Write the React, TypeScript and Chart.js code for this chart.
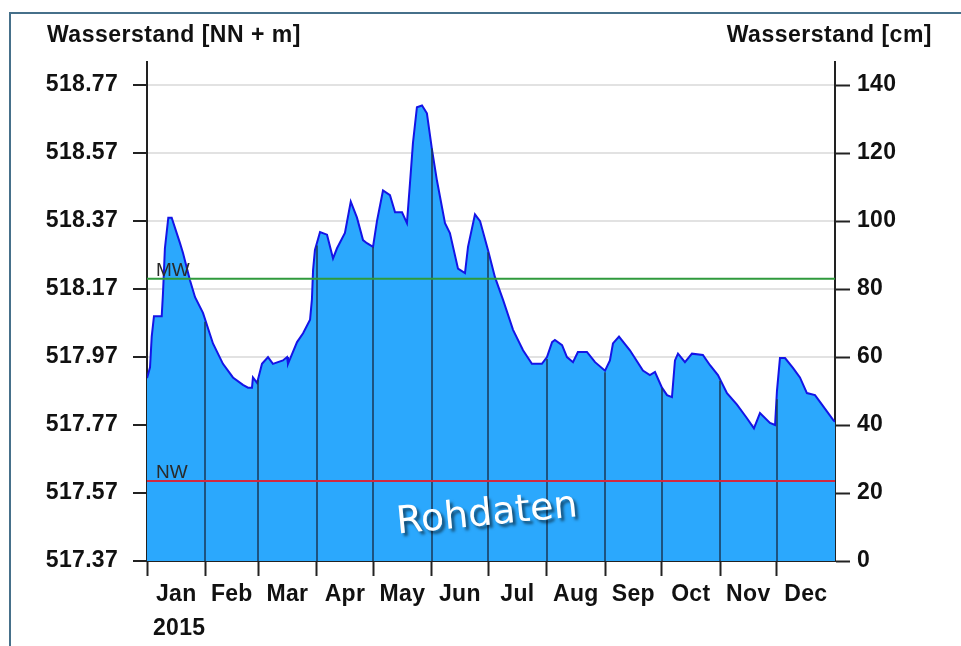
import { useEffect, useRef } from "react";
import { Chart, registerables } from "chart.js";

Chart.register(...registerables);

// ---- data ----
const monthNames = ["Jan", "Feb", "Mar", "Apr", "May", "Jun", "Jul", "Aug", "Sep", "Oct", "Nov", "Dec"];
const monthStartDays = [0, 31, 59, 90, 120, 151, 181, 212, 243, 273, 304, 334];
const yearEndDay = 365;
const yearLabel = "2015";
const leftTickValues = [517.37, 517.57, 517.77, 517.97, 518.17, 518.37, 518.57, 518.77];
const rightTickValues = [0, 20, 40, 60, 80, 100, 120, 140];
const zeroLevelNN = 517.37; // NN + m at 0 cm
const axisTopCm = 146.8;
const mwCm = 83;
const nwCm = 23.5;

const dayOfYear = [
  0, 1.6, 2.5, 3.7, 7.8, 8.5, 9.5, 11.3, 13.1, 17.5,
  19.1, 22.8, 25.5, 29.7, 35, 40.3, 45.6, 50.9, 53.6, 55.7,
  56.2, 58.4, 61, 64.2, 66.8, 72.1, 74.3, 74.8, 79.6, 82.8,
  86.5, 87.5, 88.1, 89.1, 91.8, 95.5, 98.7, 100.8, 105, 108.1,
  111.4, 114.6, 116.7, 119.9, 122, 125.2, 128.9, 131.6, 135.3, 137.9,
  139.5, 141.1, 143.2, 145.9, 148.5, 151.2, 153.8, 158.1, 160.7, 165,
  168.7, 170.3, 174, 176.7, 180.9, 184.6, 188.9, 194.2, 199.5, 204.2,
  209.5, 212.2, 214.9, 216.4, 220.2, 222.8, 226, 228.6, 233.4, 237.7,
  243, 245.6, 247.2, 250.4, 256.2, 263.1, 266.8, 269.5, 273.2, 275.9,
  278.5, 280.1, 281.7, 285.4, 289.1, 294.9, 298.7, 302.9, 307.7, 313,
  318.3, 322, 325.2, 330.5, 333.2, 334.2, 335.8, 338.5, 342.7, 346.4,
  350.1, 354.4, 358.1, 364, 365,
];

const levelCm = [
  53.8, 57, 66, 72, 72, 79, 92, 101, 101, 93.5,
  90.6, 82.6, 77.6, 73, 64, 58, 54, 51.8, 51, 51,
  54, 52.4, 58, 60, 58, 59, 60, 58, 64.4, 67,
  71, 77, 85.6, 91.5, 96.8, 96, 89, 92, 96.5, 105.7,
  101, 94.4, 93.5, 92.4, 100, 109, 107.6, 102.6, 102.6, 99.4,
  111, 123, 133.5, 134, 131.7, 121, 112, 99.4, 96.5, 86,
  84.7, 92.4, 102, 100, 91.5, 83.5, 76.8, 68, 62, 58,
  58, 60, 64.4, 65, 63.5, 60, 58.5, 61.5, 61.5, 58.5,
  56, 59, 64, 66, 62, 56, 54.7, 55.6, 51, 48.8,
  48.2, 59, 61, 58.5, 61, 60.6, 57.6, 54.7, 49.4, 46,
  42, 39, 43.5, 40.6, 40, 50, 59.7, 59.7, 56.8, 54,
  49.4, 48.8, 46, 41.5, 41,
];

const FONT = "'Liberation Sans', Arial, sans-serif";

function interpLevel(d: number): number {
  for (let i = 0; i < dayOfYear.length - 1; i++) {
    if (d >= dayOfYear[i] && d <= dayOfYear[i + 1]) {
      const t = (d - dayOfYear[i]) / (dayOfYear[i + 1] - dayOfYear[i] || 1);
      return levelCm[i] + t * (levelCm[i + 1] - levelCm[i]);
    }
  }
  return levelCm[levelCm.length - 1];
}

const xTickList: number[] = [];
monthStartDays.forEach((s, i) => {
  const e = i < monthStartDays.length - 1 ? monthStartDays[i + 1] : yearEndDay;
  xTickList.push(s);
  xTickList.push((s + e) / 2);
});

const overlayPlugin = {
  id: "overlay",
  beforeDraw(chart: any) {
    try {
      chart.ctx.letterSpacing = "0.3px";
    } catch (e) {}
  },
  afterDatasetDraw(chart: any, args: any) {
    if (args.index !== 0) return;
    const { ctx, chartArea } = chart;
    const xs = chart.scales.x;
    const ys = chart.scales.y1;
    ctx.save();
    ctx.strokeStyle = "rgba(25,55,85,0.75)";
    ctx.lineWidth = 2;
    for (const d of monthStartDays.slice(1)) {
      const px = Math.round(xs.getPixelForValue(d));
      const py = ys.getPixelForValue(interpLevel(d)) + 1.5;
      ctx.beginPath();
      ctx.moveTo(px, chartArea.bottom);
      ctx.lineTo(px, py);
      ctx.stroke();
    }
    ctx.restore();
  },
  afterDatasetsDraw(chart: any) {
    const { ctx, chartArea } = chart;
    const ys = chart.scales.y1;
    ctx.save();
    try {
      ctx.letterSpacing = "0px";
    } catch (e) {}
    ctx.fillStyle = "#2a2a2a";
    ctx.font = `19px ${FONT}`;
    ctx.textAlign = "left";
    ctx.textBaseline = "alphabetic";
    ctx.fillText("MW", chartArea.left + 9, ys.getPixelForValue(mwCm) - 3);
    ctx.fillText("NW", chartArea.left + 9, ys.getPixelForValue(nwCm) - 3);

    // watermark
    ctx.translate((chartArea.left + chartArea.right) / 2 - 4, chartArea.bottom - 46);
    ctx.rotate((-5.5 * Math.PI) / 180);
    ctx.font = `38px 'DejaVu Sans', sans-serif`;
    ctx.textAlign = "center";
    ctx.textBaseline = "middle";
    ctx.shadowColor = "rgba(0,0,0,0.55)";
    ctx.shadowOffsetX = 3;
    ctx.shadowOffsetY = 3;
    ctx.shadowBlur = 3;
    ctx.fillStyle = "#ffffff";
    ctx.fillText("Rohdaten", 0, 0);
    ctx.restore();
  },
  afterDraw(chart: any) {
    const { ctx, chartArea } = chart;
    ctx.save();
    try {
      ctx.letterSpacing = "0.5px";
    } catch (e) {}
    ctx.fillStyle = "#111";
    ctx.font = `bold 23px ${FONT}`;
    ctx.textBaseline = "alphabetic";
    ctx.textAlign = "left";
    ctx.fillText("Wasserstand [NN + m]", 47, 42);
    ctx.textAlign = "right";
    ctx.fillText("Wasserstand [cm]", 932, 42);
    ctx.textAlign = "left";
    try {
      ctx.letterSpacing = "0.3px";
    } catch (e) {}
    ctx.fillText(yearLabel, chartArea.left + 6, 635);
    ctx.restore();
  },
};

export default function App() {
  const ref = useRef<HTMLCanvasElement | null>(null);

  useEffect(() => {
    if (!ref.current) return;
    const chart = new Chart(ref.current, {
      type: "line",
      data: {
        datasets: [
          {
            data: dayOfYear.map((d, i) => ({ x: d, y: levelCm[i] })),
            yAxisID: "y1",
            xAxisID: "x",
            fill: "start",
            backgroundColor: "#2ba8fd",
            borderColor: "#1414e6",
            borderWidth: 2,
            pointRadius: 0,
            tension: 0,
            order: 2,
          },
          {
            data: [
              { x: 0, y: mwCm },
              { x: yearEndDay, y: mwCm },
            ],
            yAxisID: "y1",
            xAxisID: "x",
            fill: false,
            borderColor: "#2f9a3c",
            borderWidth: 2,
            pointRadius: 0,
            order: 1,
          },
          {
            data: [
              { x: 0, y: nwCm },
              { x: yearEndDay, y: nwCm },
            ],
            yAxisID: "y1",
            xAxisID: "x",
            fill: false,
            borderColor: "#d2283f",
            borderWidth: 2,
            pointRadius: 0,
            order: 1,
          },
        ],
      },
      options: {
        responsive: false,
        animation: false,
        layout: { padding: { top: 62, left: 0, right: 0, bottom: 0 } },
        plugins: { legend: { display: false }, tooltip: { enabled: false } },
        scales: {
          x: {
            type: "linear",
            position: "bottom",
            min: 0,
            max: yearEndDay,
            afterBuildTicks: (scale: any) => {
              scale.ticks = xTickList.map((v) => ({ value: v }));
            },
            afterFit: (scale: any) => {
              scale.height = 85;
            },
            grid: {
              drawOnChartArea: false,
              tickLength: 15,
              tickWidth: 2,
              tickColor: (c: any) => (c.index % 2 === 0 ? "#222" : "rgba(0,0,0,0)"),
            },
            border: { color: "#222", width: 2 },
            ticks: {
              autoSkip: false,
              maxRotation: 0,
              padding: 5,
              color: "#111",
              font: { family: FONT, size: 23, weight: "bold" },
              callback: (_v: any, i: number) => (i % 2 === 1 ? monthNames[(i - 1) / 2] : ""),
            },
          },
          y: {
            position: "left",
            min: zeroLevelNN,
            max: zeroLevelNN + axisTopCm / 100,
            afterBuildTicks: (scale: any) => {
              scale.ticks = leftTickValues.map((v) => ({ value: v }));
            },
            afterFit: (scale: any) => {
              scale.width = 147;
            },
            grid: {
              color: "#e2e2e2",
              lineWidth: 2,
              tickColor: "#222",
              tickLength: 14,
              tickWidth: 2,
            },
            border: { color: "#222", width: 2 },
            ticks: {
              padding: 15,
              color: "#111",
              font: { family: FONT, size: 23, weight: "bold" },
              callback: (v: any) => Number(v).toFixed(2),
            },
          },
          y1: {
            position: "right",
            min: 0,
            max: axisTopCm,
            afterBuildTicks: (scale: any) => {
              scale.ticks = rightTickValues.map((v) => ({ value: v }));
            },
            afterFit: (scale: any) => {
              scale.width = 961 - 835;
            },
            grid: {
              drawOnChartArea: false,
              tickColor: "#222",
              tickLength: 15,
              tickWidth: 2,
            },
            border: { color: "#222", width: 2 },
            ticks: {
              padding: 7,
              color: "#111",
              font: { family: FONT, size: 23, weight: "bold" },
              callback: (v: any) => String(v),
            },
          },
        },
      } as any,
      plugins: [overlayPlugin],
    });
    return () => chart.destroy();
  }, []);

  return (
    <div style={{ position: "fixed", left: 0, top: 0, width: 961, height: 646, background: "#fff" }}>
      <div
        style={{
          position: "absolute",
          left: 9,
          top: 12,
          width: 952,
          height: 634,
          borderTop: "2px solid #46708a",
          borderLeft: "2px solid #46708a",
          boxSizing: "border-box",
          pointerEvents: "none",
        }}
      />
      <canvas ref={ref} width={961} height={646} style={{ position: "absolute", left: 0, top: 0, width: 961, height: 646 }} />
    </div>
  );
}
